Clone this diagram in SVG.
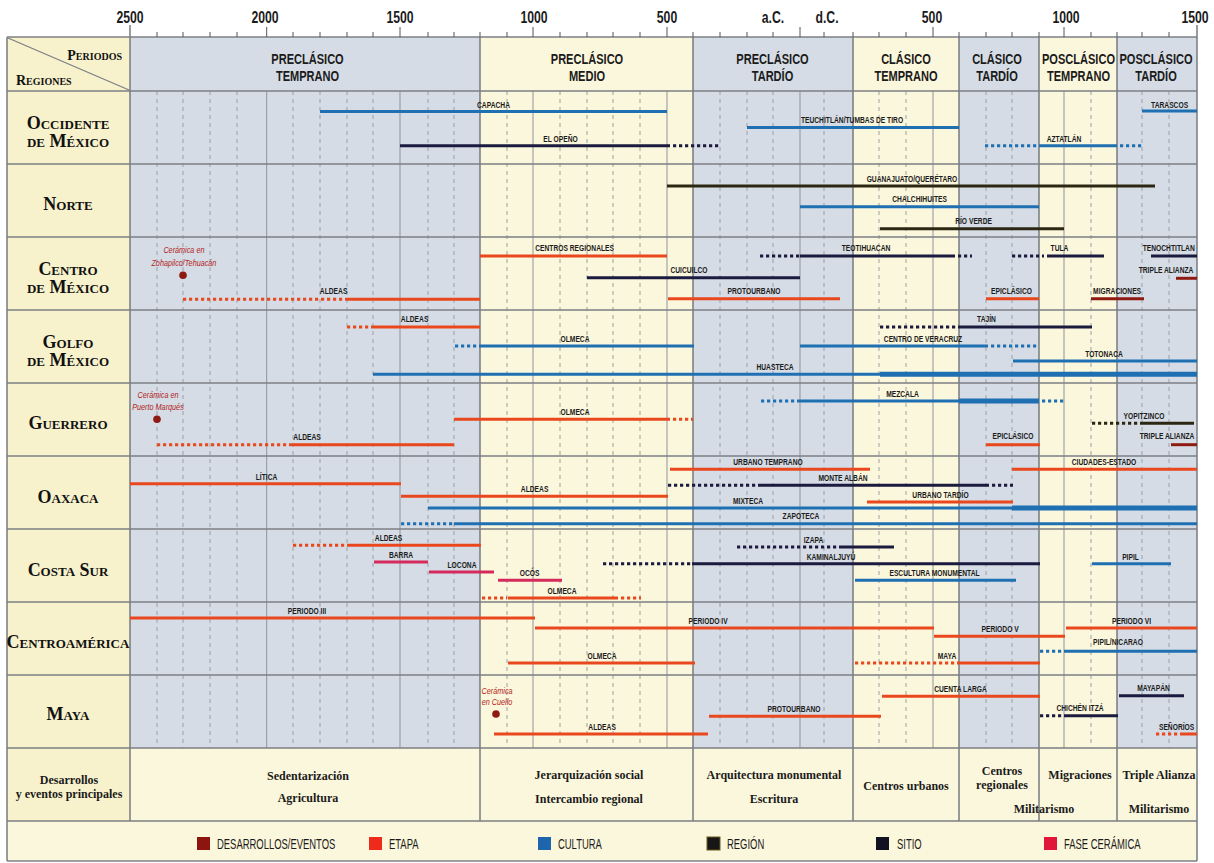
<svg xmlns="http://www.w3.org/2000/svg" width="1214" height="863" viewBox="0 0 1214 863">
<style>
.bgG{fill:#d5dce5}
.bgY{fill:#fbf7dc}
.bgL{fill:#f8f2cc}
.hl{stroke:#7c7f84;stroke-width:1.3}
.bd{stroke:#6e7277;stroke-width:1.4}
.gs{stroke:#8d939a;stroke-width:1}
.gd{stroke:#9aa0a6;stroke-width:1;stroke-dasharray:4 4}
.tk{stroke:#555;stroke-width:1}
.ax{font-family:"Liberation Sans",Arial,sans-serif;font-weight:bold;font-size:17px;fill:#1b1b1b;text-anchor:middle;transform:scaleX(.72)}
.ph{font-family:"Liberation Sans",Arial,sans-serif;font-weight:bold;font-size:15.5px;fill:#1b1b1b;text-anchor:middle;transform:scaleX(.713)}
.bl{font-family:"Liberation Sans",Arial,sans-serif;font-weight:bold;font-size:9.3px;fill:#1b1b1b;text-anchor:middle;transform:scaleX(.72)}
.nt{font-family:"Liberation Sans",Arial,sans-serif;font-style:italic;font-size:9.3px;fill:#b3231a;text-anchor:middle;transform:scaleX(.78)}
.lg{font-family:"Liberation Sans",Arial,sans-serif;font-size:15px;fill:#1b1b1b;transform-origin:left center;transform:scaleX(.63)}
.ax,.ph,.bl,.nt,.lg{transform-box:fill-box}
.ax,.ph,.bl,.nt{transform-origin:center}
.rg{font-family:"Liberation Serif","Times New Roman",serif;font-weight:bold;font-size:18px;font-variant:small-caps;fill:#111;text-anchor:middle}
.rs{font-family:"Liberation Serif","Times New Roman",serif;font-weight:bold;font-size:14px;font-variant:small-caps;fill:#111}
.ev{font-family:"Liberation Serif","Times New Roman",serif;font-weight:bold;font-size:12px;fill:#1b1b1b;text-anchor:middle}
.b{fill:none;stroke-width:3}
.w{stroke-width:5}
.d{stroke-dasharray:3.2 2.8}
.et{stroke:#e9481e}
.cu{stroke:#1f6fb3}
.re{stroke:#2b2713}
.si{stroke:#1b1a3f}
.fc{stroke:#d52b5c}
.de{stroke:#8e1b12}
.dot{fill:#8e1b12}
</style>
<rect x="0" y="0" width="1214" height="863" fill="#ffffff"/>
<g id="backgrounds">
<rect class="bgG" x="130" y="37" width="350" height="711"/>
<rect class="bgY" x="480" y="37" width="213" height="711"/>
<rect class="bgG" x="693" y="37" width="160" height="711"/>
<rect class="bgY" x="853" y="37" width="106" height="711"/>
<rect class="bgG" x="959" y="37" width="80" height="711"/>
<rect class="bgY" x="1039" y="37" width="78" height="711"/>
<rect class="bgG" x="1117" y="37" width="80" height="711"/>
<rect class="bgL" x="7" y="37" width="123" height="784"/>
<rect class="bgY" x="130" y="748" width="1067" height="73"/>
<rect class="bgY" x="7" y="821" width="1190" height="40"/>
</g>
<g id="grid">
<g class="gd">
<line x1="157" y1="91" x2="157" y2="748"/><line x1="183" y1="91" x2="183" y2="748"/><line x1="210" y1="91" x2="210" y2="748"/><line x1="237" y1="91" x2="237" y2="748"/>
<line x1="293" y1="91" x2="293" y2="748"/><line x1="320" y1="91" x2="320" y2="748"/><line x1="347" y1="91" x2="347" y2="748"/><line x1="373" y1="91" x2="373" y2="748"/>
<line x1="428" y1="91" x2="428" y2="748"/><line x1="454" y1="91" x2="454" y2="748"/><line x1="507" y1="91" x2="507" y2="748"/>
<line x1="560" y1="91" x2="560" y2="748"/><line x1="587" y1="91" x2="587" y2="748"/><line x1="613" y1="91" x2="613" y2="748"/><line x1="640" y1="91" x2="640" y2="748"/>
<line x1="720" y1="91" x2="720" y2="748"/><line x1="747" y1="91" x2="747" y2="748"/><line x1="773" y1="91" x2="773" y2="748"/><line x1="824" y1="91" x2="824" y2="748"/>
<line x1="879" y1="91" x2="879" y2="748"/><line x1="906" y1="91" x2="906" y2="748"/><line x1="986" y1="91" x2="986" y2="748"/><line x1="1012" y1="91" x2="1012" y2="748"/>
<line x1="1091" y1="91" x2="1091" y2="748"/><line x1="1142" y1="91" x2="1142" y2="748"/><line x1="1169" y1="91" x2="1169" y2="748"/>
</g>
<g class="gs">
<line x1="266.7" y1="91" x2="266.7" y2="748"/><line x1="400" y1="91" x2="400" y2="748"/><line x1="533" y1="91" x2="533" y2="748"/><line x1="667" y1="91" x2="667" y2="748"/>
<line x1="800" y1="91" x2="800" y2="748"/><line x1="933" y1="91" x2="933" y2="748"/><line x1="1064" y1="91" x2="1064" y2="748"/>
</g>
<g class="bd">
<line x1="480" y1="37" x2="480" y2="821"/><line x1="693" y1="37" x2="693" y2="821"/><line x1="853" y1="37" x2="853" y2="821"/>
<line x1="959" y1="37" x2="959" y2="821"/><line x1="1039" y1="37" x2="1039" y2="821"/><line x1="1117" y1="37" x2="1117" y2="821"/>
<line x1="130" y1="25" x2="130" y2="821"/><line x1="7" y1="37" x2="7" y2="861"/><line x1="1197" y1="25" x2="1197" y2="861"/>
</g>
<g class="hl">
<line x1="7" y1="37" x2="1197" y2="37"/><line x1="7" y1="91" x2="1197" y2="91"/><line x1="7" y1="164" x2="1197" y2="164"/>
<line x1="7" y1="237" x2="1197" y2="237"/><line x1="7" y1="310" x2="1197" y2="310"/><line x1="7" y1="383" x2="1197" y2="383"/>
<line x1="7" y1="456" x2="1197" y2="456"/><line x1="7" y1="529" x2="1197" y2="529"/><line x1="7" y1="602" x2="1197" y2="602"/>
<line x1="7" y1="675" x2="1197" y2="675"/><line x1="7" y1="748" x2="1197" y2="748"/><line x1="7" y1="821" x2="1197" y2="821"/>
<line x1="7" y1="861" x2="1197" y2="861"/>
<line x1="8" y1="38" x2="129" y2="90"/>
</g>
<g class="tk">
<path d="M157 32V37M183 32V37M210 32V37M237 32V37M293 32V37M320 32V37M347 32V37M373 32V37M428 32V37M454 32V37M480 32V37M507 32V37M560 32V37M587 32V37M613 32V37M640 32V37M693 32V37M720 32V37M747 32V37M773 32V37M824 32V37M853 32V37M879 32V37M906 32V37M959 32V37M986 32V37M1012 32V37M1039 32V37M1091 32V37M1117 32V37M1142 32V37M1169 32V37"/>
<path d="M266.7 27V37M400 27V37M533 27V37M667 27V37M800 27V37M933 27V37M1064 27V37"/>
</g>
</g>
<g id="axis">
<text class="ax" x="130" y="23">2500</text>
<text class="ax" x="265" y="23">2000</text>
<text class="ax" x="400" y="23">1500</text>
<text class="ax" x="534" y="23">1000</text>
<text class="ax" x="667" y="23">500</text>
<text class="ax" x="773" y="23">a.C.</text>
<text class="ax" x="827" y="23">d.C.</text>
<text class="ax" x="932" y="23">500</text>
<text class="ax" x="1066" y="23">1000</text>
<text class="ax" x="1195" y="23">1500</text>
</g>
<g id="header">
<text class="rs" x="122" y="60" text-anchor="end">Periodos</text>
<text class="rs" x="16" y="85">Regiones</text>
<text class="ph"><tspan x="307.5" y="64">PRECLÁSICO</tspan><tspan x="307.5" y="81.5">TEMPRANO</tspan></text>
<text class="ph"><tspan x="587" y="64">PRECLÁSICO</tspan><tspan x="587" y="81.5">MEDIO</tspan></text>
<text class="ph"><tspan x="772.5" y="64">PRECLÁSICO</tspan><tspan x="772.5" y="81.5">TARDÍO</tspan></text>
<text class="ph"><tspan x="906" y="64">CLÁSICO</tspan><tspan x="906" y="81.5">TEMPRANO</tspan></text>
<text class="ph"><tspan x="997" y="64">CLÁSICO</tspan><tspan x="997" y="81.5">TARDÍO</tspan></text>
<text class="ph"><tspan x="1078.5" y="64">POSCLÁSICO</tspan><tspan x="1078.5" y="81.5">TEMPRANO</tspan></text>
<text class="ph"><tspan x="1156" y="64">POSCLÁSICO</tspan><tspan x="1156" y="81.5">TARDÍO</tspan></text>
</g>
<g id="regions">
<text class="rg"><tspan x="68" y="129">Occidente</tspan><tspan x="68" y="147">de México</tspan></text>
<text class="rg" x="68" y="210">Norte</text>
<text class="rg"><tspan x="68" y="275">Centro</tspan><tspan x="68" y="293">de México</tspan></text>
<text class="rg"><tspan x="68" y="348">Golfo</tspan><tspan x="68" y="366">de México</tspan></text>
<text class="rg" x="68" y="429">Guerrero</text>
<text class="rg" x="68" y="502.5">Oaxaca</text>
<text class="rg" x="68" y="576">Costa Sur</text>
<text class="rg" x="68" y="648">Centroamérica</text>
<text class="rg" x="68" y="719.5">Maya</text>
</g>
<g id="occidente">
<line class="b cu" x1="320" y1="111.5" x2="667" y2="111.5"/>
<line class="b cu" x1="747" y1="127.5" x2="959" y2="127.5"/>
<line class="b si" x1="400" y1="145.7" x2="670" y2="145.7"/>
<line class="b si d" x1="673" y1="145.7" x2="719" y2="145.7"/>
<line class="b cu" x1="1142" y1="111" x2="1197" y2="111"/>
<line class="b cu d" x1="985" y1="145.7" x2="1039" y2="145.7"/>
<line class="b cu" x1="1039" y1="145.7" x2="1117" y2="145.7"/>
<line class="b cu d" x1="1120" y1="145.7" x2="1142" y2="145.7"/>
<text class="bl" x="493.5" y="108.3">CAPACHA</text>
<text class="bl" x="852" y="123">TEUCHITLÁN/TUMBAS DE TIRO</text>
<text class="bl" x="560.5" y="141.7">EL OPEÑO</text>
<text class="bl" x="1169.5" y="107.7">TARASCOS</text>
<text class="bl" x="1064" y="141.7">AZTATLÁN</text>
</g>
<g id="norte">
<line class="b re" x1="667" y1="186" x2="1155" y2="186"/>
<line class="b cu" x1="800" y1="206.7" x2="1039" y2="206.7"/>
<line class="b re" x1="880" y1="228.7" x2="1064" y2="228.7"/>
<text class="bl" x="912" y="181.7">GUANAJUATO/QUERÉTARO</text>
<text class="bl" x="919.5" y="201.7">CHALCHIHUITES</text>
<text class="bl" x="973.5" y="224.3">RÍO VERDE</text>
</g>
<g id="centro">
<text class="nt"><tspan x="184" y="253.3">Cerámica en</tspan><tspan x="184" y="266">Zohapilco/Tehuacán</tspan></text>
<circle class="dot" cx="183" cy="275.3" r="3.8"/>
<line class="b et d" x1="183" y1="299.3" x2="347" y2="299.3"/>
<line class="b et" x1="347" y1="299.3" x2="480" y2="299.3"/>
<line class="b et" x1="480" y1="256" x2="667" y2="256"/>
<line class="b si" x1="587" y1="277.7" x2="800" y2="277.7"/>
<line class="b et" x1="668" y1="298.7" x2="840" y2="298.7"/>
<line class="b si d" x1="760" y1="256" x2="800" y2="256"/>
<line class="b si" x1="800" y1="256" x2="955" y2="256"/>
<line class="b si d" x1="958" y1="256" x2="972" y2="256"/>
<line class="b si d" x1="1012" y1="256" x2="1044" y2="256"/>
<line class="b si" x1="1047" y1="256" x2="1104" y2="256"/>
<line class="b si" x1="1151" y1="256" x2="1197" y2="256"/>
<line class="b de" x1="1176" y1="278.3" x2="1197" y2="278.3"/>
<line class="b et" x1="986" y1="298.7" x2="1039" y2="298.7"/>
<line class="b de" x1="1091" y1="298.7" x2="1144" y2="298.7"/>
<text class="bl" x="333.5" y="294.3">ALDEAS</text>
<text class="bl" x="574.5" y="251">CENTROS REGIONALES</text>
<text class="bl" x="689" y="273.3">CUICUILCO</text>
<text class="bl" x="754" y="294.3">PROTOURBANO</text>
<text class="bl" x="866" y="251">TEOTIHUACAN</text>
<text class="bl" x="1059.5" y="251">TULA</text>
<text class="bl" x="1168.7" y="251">TENOCHTITLAN</text>
<text class="bl" x="1166" y="273.3">TRIPLE ALIANZA</text>
<text class="bl" x="1011.5" y="294.3">EPICLÁSICO</text>
<text class="bl" x="1117" y="294.3">MIGRACIONES</text>
</g>
<g id="golfo">
<line class="b et d" x1="347" y1="327" x2="373" y2="327"/>
<line class="b et" x1="373" y1="327" x2="480" y2="327"/>
<line class="b cu d" x1="455" y1="346" x2="480" y2="346"/>
<line class="b cu" x1="480" y1="346" x2="694" y2="346"/>
<line class="b cu" x1="373" y1="374.3" x2="880" y2="374.3"/>
<line class="b cu w" x1="880" y1="374.3" x2="1197" y2="374.3"/>
<line class="b cu" x1="800" y1="346" x2="988" y2="346"/>
<line class="b cu d" x1="991" y1="346" x2="1039" y2="346"/>
<line class="b si d" x1="880" y1="327" x2="959" y2="327"/>
<line class="b si" x1="959" y1="327" x2="1092" y2="327"/>
<line class="b cu" x1="1013" y1="361" x2="1197" y2="361"/>
<text class="bl" x="414.5" y="322">ALDEAS</text>
<text class="bl" x="575" y="342">OLMECA</text>
<text class="bl" x="775" y="370">HUASTECA</text>
<text class="bl" x="923" y="342">CENTRO DE VERACRUZ</text>
<text class="bl" x="986.5" y="322">TAJÍN</text>
<text class="bl" x="1104" y="357">TOTONACA</text>
</g>
<g id="guerrero">
<text class="nt"><tspan x="158" y="397.7">Cerámica en</tspan><tspan x="158" y="410">Puerto Marqués</tspan></text>
<circle class="dot" cx="157" cy="419.3" r="3.8"/>
<line class="b et d" x1="157" y1="444.7" x2="290" y2="444.7"/>
<line class="b et" x1="290" y1="444.7" x2="454" y2="444.7"/>
<line class="b et" x1="454" y1="419.3" x2="670" y2="419.3"/>
<line class="b et d" x1="673" y1="419.3" x2="693" y2="419.3"/>
<line class="b cu d" x1="761" y1="401" x2="800" y2="401"/>
<line class="b cu" x1="800" y1="401" x2="959" y2="401"/>
<line class="b cu w" x1="959" y1="401" x2="1039" y2="401"/>
<line class="b cu d" x1="1042" y1="401" x2="1065" y2="401"/>
<line class="b re d" x1="1092" y1="423.3" x2="1143" y2="423.3"/>
<line class="b re" x1="1143" y1="423.3" x2="1194" y2="423.3"/>
<line class="b et" x1="986" y1="444.7" x2="1040" y2="444.7"/>
<line class="b de" x1="1171" y1="444.7" x2="1197" y2="444.7"/>
<text class="bl" x="307" y="440.3">ALDEAS</text>
<text class="bl" x="575" y="414.7">OLMECA</text>
<text class="bl" x="902.5" y="397">MEZCALA</text>
<text class="bl" x="1144" y="419.3">YOPITZINCO</text>
<text class="bl" x="1013" y="439.5">EPICLÁSICO</text>
<text class="bl" x="1167" y="439.5">TRIPLE ALIANZA</text>
</g>
<g id="oaxaca">
<line class="b et" x1="130" y1="483.7" x2="401" y2="483.7"/>
<line class="b et" x1="401" y1="496.3" x2="668" y2="496.3"/>
<line class="b et" x1="670" y1="469.3" x2="870" y2="469.3"/>
<line class="b si d" x1="668" y1="485.3" x2="759" y2="485.3"/>
<line class="b si" x1="759" y1="485.3" x2="989" y2="485.3"/>
<line class="b si d" x1="992" y1="485.3" x2="1013" y2="485.3"/>
<line class="b et" x1="867" y1="502" x2="1013" y2="502"/>
<line class="b et" x1="1012" y1="469.3" x2="1197" y2="469.3"/>
<line class="b cu" x1="428" y1="508" x2="1012" y2="508"/>
<line class="b cu w" x1="1012" y1="508" x2="1197" y2="508"/>
<line class="b cu d" x1="401" y1="523.7" x2="454" y2="523.7"/>
<line class="b cu" x1="454" y1="523.7" x2="1197" y2="523.7"/>
<text class="bl" x="266.5" y="479.7">LÍTICA</text>
<text class="bl" x="534.5" y="492">ALDEAS</text>
<text class="bl" x="768" y="465.3">URBANO TEMPRANO</text>
<text class="bl" x="843" y="481.3">MONTE ALBÁN</text>
<text class="bl" x="940.5" y="497.7">URBANO TARDÍO</text>
<text class="bl" x="1104" y="465.3">CIUDADES-ESTADO</text>
<text class="bl" x="748" y="503.7">MIXTECA</text>
<text class="bl" x="801" y="519.3">ZAPOTECA</text>
</g>
<g id="costasur">
<line class="b et d" x1="293" y1="545.3" x2="347" y2="545.3"/>
<line class="b et" x1="347" y1="545.3" x2="481" y2="545.3"/>
<line class="b fc" x1="374" y1="562" x2="428" y2="562"/>
<line class="b fc" x1="429" y1="572" x2="494" y2="572"/>
<line class="b fc" x1="498" y1="580.3" x2="562" y2="580.3"/>
<line class="b et d" x1="482" y1="598" x2="507" y2="598"/>
<line class="b et" x1="508" y1="598" x2="618" y2="598"/>
<line class="b et d" x1="621" y1="598" x2="641" y2="598"/>
<line class="b si d" x1="737" y1="547" x2="839" y2="547"/>
<line class="b si" x1="839" y1="547" x2="894" y2="547"/>
<line class="b si d" x1="603" y1="563.7" x2="692" y2="563.7"/>
<line class="b si" x1="692" y1="563.7" x2="1040" y2="563.7"/>
<line class="b cu" x1="855" y1="580.3" x2="1016" y2="580.3"/>
<line class="b cu" x1="1092" y1="563.7" x2="1171" y2="563.7"/>
<text class="bl" x="388.5" y="541">ALDEAS</text>
<text class="bl" x="401" y="557.7">BARRA</text>
<text class="bl" x="462" y="568">LOCONA</text>
<text class="bl" x="529.5" y="576">OCÓS</text>
<text class="bl" x="562" y="593.7">OLMECA</text>
<text class="bl" x="813.5" y="543">IZAPA</text>
<text class="bl" x="831" y="559.7">KAMINALJUYÚ</text>
<text class="bl" x="934.5" y="576">ESCULTURA MONUMENTAL</text>
<text class="bl" x="1130.5" y="559.7">PIPIL</text>
</g>
<g id="centroamerica">
<line class="b et" x1="130" y1="618" x2="535" y2="618"/>
<line class="b et" x1="535" y1="628" x2="934" y2="628"/>
<line class="b et" x1="934" y1="636.3" x2="1065" y2="636.3"/>
<line class="b et" x1="1066" y1="628" x2="1197" y2="628"/>
<line class="b cu d" x1="1040" y1="651.3" x2="1066" y2="651.3"/>
<line class="b cu" x1="1066" y1="651.3" x2="1197" y2="651.3"/>
<line class="b et" x1="508" y1="663" x2="695" y2="663"/>
<line class="b et d" x1="855" y1="663" x2="959" y2="663"/>
<line class="b et" x1="959" y1="663" x2="1040" y2="663"/>
<text class="bl" x="307" y="613.7">PERIODO III</text>
<text class="bl" x="708" y="623.7">PERIODO IV</text>
<text class="bl" x="1000" y="632">PERIODO V</text>
<text class="bl" x="1131.5" y="623.7">PERIODO VI</text>
<text class="bl" x="1118" y="645.3">PIPIL/NICARAO</text>
<text class="bl" x="602" y="658.7">OLMECA</text>
<text class="bl" x="947" y="658.7">MAYA</text>
</g>
<g id="maya">
<text class="nt"><tspan x="497" y="693.7">Cerámica</tspan><tspan x="497" y="705.3">en Cuello</tspan></text>
<circle class="dot" cx="496" cy="714" r="3.8"/>
<line class="b et" x1="494" y1="734" x2="708" y2="734"/>
<line class="b et" x1="709" y1="716.3" x2="881" y2="716.3"/>
<line class="b et" x1="882" y1="696.3" x2="1040" y2="696.3"/>
<line class="b si d" x1="1040" y1="715.7" x2="1066" y2="715.7"/>
<line class="b si" x1="1066" y1="715.7" x2="1118" y2="715.7"/>
<line class="b si" x1="1119" y1="695.7" x2="1184" y2="695.7"/>
<line class="b et d" x1="1156" y1="734" x2="1182" y2="734"/>
<line class="b et" x1="1182" y1="734" x2="1197" y2="734"/>
<text class="bl" x="602" y="729.7">ALDEAS</text>
<text class="bl" x="794" y="712">PROTOURBANO</text>
<text class="bl" x="960.5" y="692.3">CUENTA LARGA</text>
<text class="bl" x="1080" y="711.3">CHICHÉN ITZÁ</text>
<text class="bl" x="1153.5" y="691.3">MAYAPÁN</text>
<text class="bl" x="1176.5" y="729.7">SEÑORÍOS</text>
</g>
<g id="desarrollos">
<text class="ev"><tspan x="69" y="784">Desarrollos</tspan><tspan x="69" y="798">y eventos principales</tspan></text>
<text class="ev"><tspan x="308" y="780">Sedentarización</tspan><tspan x="308" y="802">Agricultura</tspan></text>
<text class="ev"><tspan x="589" y="779">Jerarquización social</tspan><tspan x="589" y="803">Intercambio regional</tspan></text>
<text class="ev"><tspan x="774" y="779">Arquitectura monumental</tspan><tspan x="774" y="803">Escritura</tspan></text>
<text class="ev" x="906" y="790">Centros urbanos</text>
<text class="ev"><tspan x="1002" y="774.5">Centros</tspan><tspan x="1002" y="788.5">regionales</tspan></text>
<text class="ev" x="1044" y="813">Militarismo</text>
<text class="ev" x="1080" y="779">Migraciones</text>
<text class="ev"><tspan x="1159" y="779">Triple Alianza</tspan><tspan x="1159" y="813">Militarismo</tspan></text>
</g>
<g id="legend">
<rect x="197" y="837" width="13" height="13" fill="#8e1410"/>
<text class="lg" x="217" y="849">DESARROLLOS/EVENTOS</text>
<rect x="369" y="837" width="13" height="13" fill="#ee2a1b"/>
<text class="lg" x="389" y="849">ETAPA</text>
<rect x="538" y="837" width="13" height="13" fill="#1d66ad"/>
<text class="lg" x="558" y="849">CULTURA</text>
<rect x="707" y="837" width="13" height="13" fill="#161616" stroke="#6b5a1a" stroke-width="1"/>
<text class="lg" x="727" y="849">REGIÓN</text>
<rect x="876" y="837" width="13" height="13" fill="#111122"/>
<text class="lg" x="897" y="849">SITIO</text>
<rect x="1044" y="837" width="13" height="13" fill="#e0163a"/>
<text class="lg" x="1064" y="849">FASE CERÁMICA</text>
</g>
</svg>
